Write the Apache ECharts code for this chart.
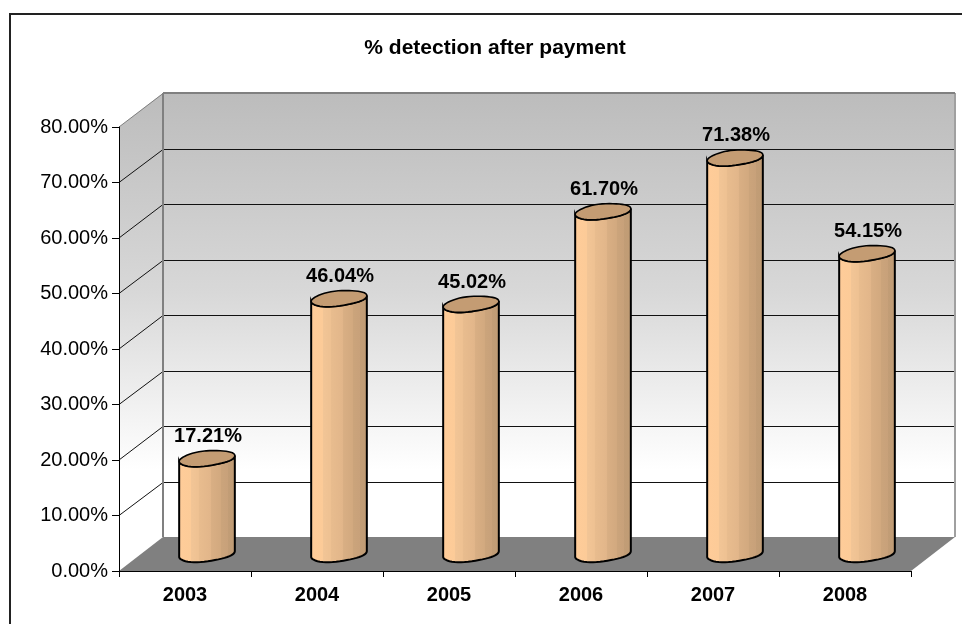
<!DOCTYPE html>
<html>
<head>
<meta charset="utf-8">
<style>
  html, body { margin: 0; padding: 0; background: #fff; }
  #chart { width: 962px; height: 624px; }
</style>
<script src="https://cdn.jsdelivr.net/npm/echarts@6/dist/echarts.min.js"></script>
</head>
<body>
<div id="chart"></div>
<script>
var years = ['2003', '2004', '2005', '2006', '2007', '2008']
var detection = [17.21, 46.04, 45.02, 61.70, 71.38, 54.15]
var yTicks = [0, 10, 20, 30, 40, 50, 60, 70, 80]

// 3d look: how far the back wall sits from the front of the floor
var DEPTH_X = 44
var DEPTH_Y = 34
var FONT = '"Liberation Sans", Arial, sans-serif'

var myChart = echarts.init(document.getElementById('chart'))

function wallGradient(top, bottom) {
	return new echarts.graphic.LinearGradient(0, top, 0, bottom, [
		{ offset: 0, color: '#bcbcbc' },
		{ offset: 0.45, color: '#d8d8d8' },
		{ offset: 0.85, color: '#ffffff' },
		{ offset: 1, color: '#ffffff' }
	], true)
}

// walls, floor and the grid lines on them
function renderRoom(params, api) {
	var left = params.coordSys.x
	var right = left + params.coordSys.width
	var y0 = api.coord([0, 0])[1]
	var yMax = api.coord([0, yTicks[yTicks.length - 1]])[1]
	var fill = wallGradient(yMax - DEPTH_Y, y0 - DEPTH_Y)
	var kids = [
		{ type: 'polygon', shape: { points: [[left, y0], [left + DEPTH_X, y0 - DEPTH_Y], [left + DEPTH_X, yMax - DEPTH_Y], [left, yMax]] }, style: { fill: fill } },
		{ type: 'rect', shape: { x: left + DEPTH_X, y: yMax - DEPTH_Y, width: right - left, height: y0 - yMax }, style: { fill: fill } },
		{ type: 'polygon', shape: { points: [[left, y0], [right, y0], [right + DEPTH_X, y0 - DEPTH_Y], [left + DEPTH_X, y0 - DEPTH_Y]] }, style: { fill: '#808080' } }
	]
	yTicks.forEach(function (t) {
		if (t === 0) return
		var y = api.coord([0, t])[1]
		var backY = Math.round(y - DEPTH_Y) + 0.5
		var lineColor = t === yTicks[yTicks.length - 1] ? '#808080' : '#111111'
		kids.push({ type: 'polyline', shape: { points: [[left, y], [left + DEPTH_X, backY], [right + DEPTH_X, backY]] }, style: { fill: null, stroke: lineColor, lineWidth: 1 } })
	})
	kids.push({ type: 'line', shape: { x1: left + DEPTH_X, y1: y0 - DEPTH_Y, x2: left + DEPTH_X, y2: yMax - DEPTH_Y }, style: { stroke: '#808080', lineWidth: 2 } })
	kids.push({ type: 'line', shape: { x1: right + DEPTH_X, y1: y0 - DEPTH_Y, x2: right + DEPTH_X, y2: yMax - DEPTH_Y }, style: { stroke: '#a0a0a0', lineWidth: 2 } })
	kids.push({ type: 'polyline', shape: { points: [[left + DEPTH_X, yMax - DEPTH_Y], [right + DEPTH_X, yMax - DEPTH_Y]] }, style: { fill: null, stroke: '#808080', lineWidth: 2 } })
	return { type: 'group', children: kids }
}

// point on a tilted, slightly lumpy ellipse, t in radians
function ellipsePoint(cx, cy, rx, ry, t) {
	var tilt = -0.11
	var ex = rx * Math.cos(t)
	var ey = ry * Math.sin(t) * (1 + 0.05 * Math.sin(3 * t + 1))
	return [cx + ex * Math.cos(tilt) - ey * Math.sin(tilt), cy + ex * Math.sin(tilt) + ey * Math.cos(tilt)]
}

function renderCylinder(params, api) {
	var idx = api.value(0)
	var val = api.value(1)
	var front = api.coord([idx, val])
	var base = api.coord([idx, 0])
	var cx = front[0] + DEPTH_X / 2
	var topY = front[1] - DEPTH_Y / 2
	var botY = base[1] - DEPTH_Y / 2
	var rx = 28
	var ry = 7.5
	var i
	var body = []
	for (i = 0; i <= 24; i++) {
		body.push(ellipsePoint(cx, botY, rx, ry, Math.PI - Math.PI * i / 24))
	}
	for (i = 0; i <= 24; i++) {
		body.push(ellipsePoint(cx, topY, rx, ry, Math.PI * i / 24))
	}
	var lid = []
	for (i = 0; i < 48; i++) {
		lid.push(ellipsePoint(cx, topY, rx, ry, Math.PI * 2 * i / 48))
	}
	var stripes = new echarts.graphic.LinearGradient(0, 0, 1, 0, [
		{ offset: 0, color: '#ffcc99' },
		{ offset: 0.22, color: '#fccb98' },
		{ offset: 0.23, color: '#f2c596' },
		{ offset: 0.36, color: '#eec192' },
		{ offset: 0.37, color: '#e8bc8e' },
		{ offset: 0.56, color: '#e2b68a' },
		{ offset: 0.57, color: '#d9af84' },
		{ offset: 0.74, color: '#d2a97f' },
		{ offset: 0.75, color: '#cba47b' },
		{ offset: 0.86, color: '#c8a17a' },
		{ offset: 0.87, color: '#c29d76' },
		{ offset: 1, color: '#bf9b74' }
	])
	return {
		type: 'group',
		children: [
			{ type: 'polygon', shape: { points: body }, style: { fill: stripes, stroke: '#000', lineWidth: 2 } },
			{ type: 'polygon', shape: { points: lid }, style: { fill: '#c49c73', stroke: '#000', lineWidth: 1.6 } },
			{
				type: 'text',
				x: cx + 1,
				y: topY - 22,
				style: { text: val.toFixed(2) + '%', fill: '#000', font: 'bold 20px ' + FONT, textAlign: 'center', textVerticalAlign: 'middle' }
			}
		]
	}
}

var option = {
	animation: false,
	backgroundColor: '#fff',
	title: {
		text: '% detection after payment',
		left: 490,
		top: 33,
		textAlign: 'center',
		textStyle: { fontFamily: FONT, fontSize: 21, fontWeight: 'bold', color: '#000' }
	},
	graphic: [{
		type: 'rect',
		shape: { x: 10, y: 14, width: 1000, height: 700 },
		style: { fill: null, stroke: '#222', lineWidth: 2 },
		silent: true
	}],
	grid: { left: 119, right: 51, top: 127, bottom: 53 },
	xAxis: {
		type: 'category',
		data: years,
		z: 5,
		axisLine: { lineStyle: { color: '#000', width: 1 } },
		axisTick: { show: true, alignWithLabel: false, length: 6, lineStyle: { color: '#000' } },
		axisLabel: { color: '#000', fontFamily: FONT, fontSize: 20, fontWeight: 'bold', margin: 14 }
	},
	yAxis: {
		type: 'value',
		min: 0,
		max: 80,
		interval: 10,
		z: 5,
		splitLine: { show: false },
		axisLine: { show: true, lineStyle: { color: '#000', width: 1 } },
		axisTick: { show: true, length: 7, lineStyle: { color: '#000' } },
		axisLabel: {
			color: '#000',
			fontFamily: FONT,
			fontSize: 20,
			margin: 11,
			formatter: function (v) {
				return v.toFixed(2) + '%'
			}
		}
	},
	series: [
		{
			type: 'custom',
			silent: true,
			z: 1,
			renderItem: renderRoom,
			data: [[0, 0]]
		},
		{
			type: 'custom',
			z: 3,
			renderItem: renderCylinder,
			encode: { x: 0, y: 1 },
			data: detection.map(function (v, i) {
				return [i, v]
			})
		}
	]
}
myChart.setOption(option)
</script>
</body>
</html>
